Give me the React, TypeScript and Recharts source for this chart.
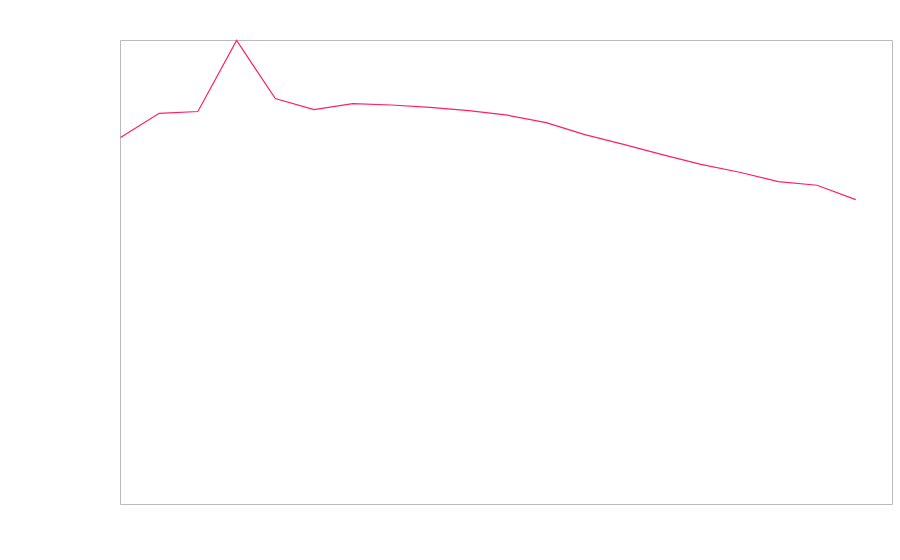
import React from "react";
import { LineChart, Line, XAxis, YAxis, ReferenceArea } from "recharts";

// x positions and values (no labels in the picture)
const steps = [0, 1, 2, 3, 4, 5, 6, 7, 8, 9, 10, 11, 12, 13, 14, 15, 16, 17, 18, 19];
const values = [
  79.1, 84.3, 84.7, 100, 87.5, 85.1, 86.4, 86.1, 85.6, 84.9,
  83.9, 82.3, 79.7, 77.6, 75.4, 73.3, 71.6, 69.6, 68.8, 65.7,
];
const xMax = 19.95;

const data = steps.map((s, i) => ({ step: s, value: values[i] }));

export default function App() {
  return (
    <div style={{ position: "absolute", left: 0, top: 0 }}>
      <LineChart
        width={900}
        height={560}
        data={data}
        margin={{ top: 40.5, right: 7.5, bottom: 55.5, left: 120.5 }}
      >
        <XAxis dataKey="step" type="number" domain={[0, xMax]} hide />
        <YAxis type="number" domain={[0, 100]} hide />
        <ReferenceArea
          x1={0}
          x2={xMax}
          y1={0}
          y2={100}
          fill="none"
          stroke="#bbbbbb"
          strokeWidth={1}
          fillOpacity={0}
          strokeOpacity={1}
        />
        <Line
          type="linear"
          dataKey="value"
          stroke="#ff1f66"
          strokeWidth={1.2}
          dot={false}
          isAnimationActive={false}
        />
      </LineChart>
    </div>
  );
}
